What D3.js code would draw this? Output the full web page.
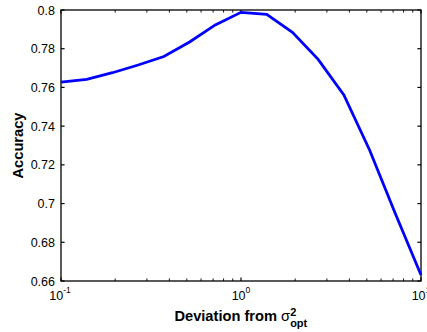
<!DOCTYPE html>
<html>
<head>
<meta charset="utf-8">
<script src="https://cdn.jsdelivr.net/npm/d3@7"></script>
<style>
html,body{margin:0;padding:0;background:#fff;}
svg{display:block;font-family:"Liberation Sans",Arial,Helvetica,sans-serif;}
</style>
</head>
<body>
<svg id="chart" width="427" height="332"></svg>
<script>
// Data
const deviation = [0.1, 0.1389, 0.1931, 0.2683, 0.3728, 0.5179, 0.7197, 1, 1.3895, 1.9307, 2.6827, 3.7276, 5.1795, 7.1969, 10];
const accuracy  = [0.7627, 0.7642, 0.7676, 0.7716, 0.7760, 0.7835, 0.7923, 0.7988, 0.7978, 0.7885, 0.7745, 0.7561, 0.7277, 0.6949, 0.6631];
const yTicks = [0.66, 0.68, 0.7, 0.72, 0.74, 0.76, 0.78, 0.8];
const xMajor = [0.1, 1, 10];
const xMajorExp = ["-1", "0", "1"];
const xMinor = [0.2,0.3,0.4,0.5,0.6,0.7,0.8,0.9,2,3,4,5,6,7,8,9];

const svg = d3.select("#chart");
const L = 61, R = 421, T = 10, B = 281;
const x = d3.scaleLog().domain([0.1, 10]).range([L, R]);
const y = d3.scaleLinear().domain([0.66, 0.8]).range([B, T]);

const tickLen = 3.6;
const g = svg.append("g");

// y ticks left and right (inward)
yTicks.forEach(v => {
  g.append("line").attr("x1", L).attr("x2", L + tickLen).attr("y1", y(v)).attr("y2", y(v))
    .attr("stroke", "#000").attr("stroke-width", 1.2);
  g.append("line").attr("x1", R).attr("x2", R - tickLen).attr("y1", y(v)).attr("y2", y(v))
    .attr("stroke", "#000").attr("stroke-width", 1.2);
  g.append("text").attr("x", L - 6).attr("y", y(v)).attr("dy", "0.36em")
    .attr("text-anchor", "end").attr("font-size", "12.5px").attr("fill", "#000")
    .text(d3.format("")(v));
});

// x ticks bottom and top
xMajor.concat(xMinor).forEach(v => {
  const major = xMajor.includes(v);
  const len = major ? tickLen : 2.6;
  g.append("line").attr("x1", x(v)).attr("x2", x(v)).attr("y1", B).attr("y2", B - len)
    .attr("stroke", "#000").attr("stroke-width", major ? 1.2 : 0.9);
  g.append("line").attr("x1", x(v)).attr("x2", x(v)).attr("y1", T).attr("y2", T + len)
    .attr("stroke", "#000").attr("stroke-width", major ? 1.2 : 0.9);
});

// x tick labels 10^e
xMajor.forEach((v, i) => {
  const t = g.append("text").attr("y", 300).attr("font-size", "12.5px").attr("fill", "#000");
  t.append("tspan").text("10");
  t.append("tspan").attr("font-size", "8.5px").attr("dy", -7).text(xMajorExp[i]);
  const w = t.node().getComputedTextLength();
  t.attr("x", x(v) - w / 2 + (i === 0 ? -1 : 0));
});

// box
g.append("rect").attr("x", L).attr("y", T).attr("width", R - L).attr("height", B - T)
  .attr("fill", "none").attr("stroke", "#000").attr("stroke-width", 1.3);

// line
const line = d3.line().x((d, i) => x(deviation[i])).y(d => y(d));
svg.append("path").datum(accuracy).attr("d", line)
  .attr("fill", "none").attr("stroke", "#0000ff").attr("stroke-width", 2.8)
  .attr("stroke-linejoin", "miter");

// y label
svg.append("text").attr("transform", "translate(22.5," + ((T + B) / 2) + ") rotate(-90)")
  .attr("text-anchor", "middle").attr("font-size", "14.67px").attr("font-weight", "bold")
  .attr("fill", "#000").text("Accuracy");

// x label
const xl = svg.append("text").attr("y", 321).attr("font-size", "14.67px").attr("font-weight", "bold").attr("fill", "#000");
xl.append("tspan").text("Deviation from ");
xl.append("tspan").attr("font-weight", "normal").text("σ");
const sup = xl.append("tspan").attr("font-size", "11px").attr("dy", -5).text("2");
const supW = sup.node().getComputedTextLength();
xl.append("tspan").attr("font-size", "11px").attr("dx", -supW).attr("dy", 10.5).text("opt");
const bb = xl.node().getBBox();
xl.attr("x", (L + R) / 2 - bb.width / 2);
</script>
</body>
</html>
